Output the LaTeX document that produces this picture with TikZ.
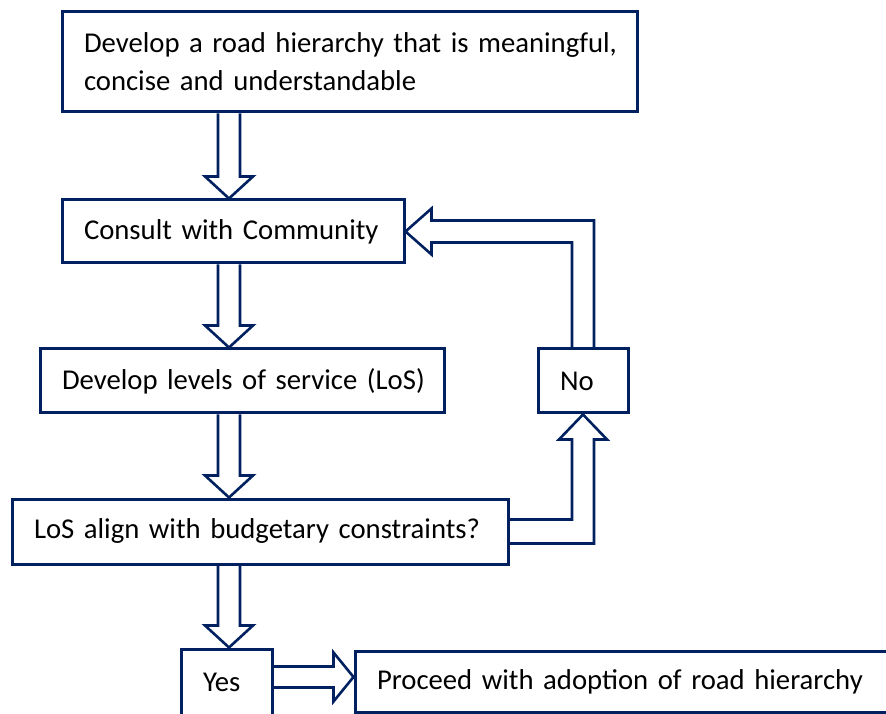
\documentclass[tikz,border=0pt]{standalone}
\usepackage{fontspec}
\setmainfont{Carlito}
\usetikzlibrary{positioning,calc}
\definecolor{navy}{HTML}{002060}

\begin{document}
\begin{tikzpicture}[x=1pt, y=1pt,
  box/.style={draw=navy, line width=3pt, inner xsep=22pt, inner ysep=0pt, align=left,
    font=\fontsize{28.7}{38}\selectfont},
  blockarrow/.style={draw=navy, line width=2.6pt, line join=miter}]
\useasboundingbox (0,0) rectangle (886,713);

\node[box, text width=531pt, minimum height=100pt] (hier) at (349.5,651)
  {\mbox{Develop a road hierarchy that is meaningful,}\\\mbox{concise and understandable}};
\node[box, text width=298pt, minimum height=63pt] (consult) at (233,481.5) {\mbox{Consult with Community}};
\node[box, text width=360pt, minimum height=64pt] (levels) at (242,332) {\mbox{Develop levels of service (LoS)}};
\node[box, text width=452pt, minimum height=65pt] (budget) at (260,181.5) {\mbox{LoS align with budgetary constraints?}};
\node[box, text width=46pt, minimum height=64pt] (no) at (583,332) {No};
\node[box, text width=47pt, minimum height=66pt] (yes) at (226.5,31) {Yes};
\node[box, text width=501pt, minimum height=61pt] (proceed) at (627.5,31.5) {\mbox{Proceed with adoption of road hierarchy}};

\coordinate (axis) at (229,0);
\coordinate (yesrow) at (0,36);

% hollow arrows down the main column
\foreach \a/\b in {hier/consult, consult/levels, levels/budget, budget/yes}
  \draw[blockarrow] ($(\a.south -| axis)+(-11,0)$) -- ($(\b.north -| axis)+(-11,22)$)
    -- ($(\b.north -| axis)+(-24,22)$) -- (\b.north -| axis) -- ($(\b.north -| axis)+(24,22)$)
    -- ($(\b.north -| axis)+(11,22)$) -- ($(\a.south -| axis)+(11,0)$);

% yes -> proceed
\draw[blockarrow] ($(yes.east |- yesrow)+(0,10.5)$) -- ($(proceed.west |- yesrow)+(-20,10.5)$)
  -- ($(proceed.west |- yesrow)+(-20,24.5)$) -- (proceed.west |- yesrow)
  -- ($(proceed.west |- yesrow)+(-20,-24.5)$) -- ($(proceed.west |- yesrow)+(-20,-10.5)$)
  -- ($(yes.east |- yesrow)+(0,-10.5)$);

% budget -> no
\draw[blockarrow] ($(budget.east)+(0,12)$) -- ($(budget.east -| no.south)+(-11,12)$)
  -- ($(no.south)+(-11,-25)$) -- ($(no.south)+(-24,-25)$) -- (no.south)
  -- ($(no.south)+(24,-25)$) -- ($(no.south)+(11,-25)$)
  -- ($(budget.east -| no.south)+(11,-12)$) -- ($(budget.east)+(0,-12)$);

% no -> back to consult
\draw[blockarrow] ($(no.north)+(-11,0)$) -- ($(no.north |- consult.east)+(-11,-11)$)
  -- ($(consult.east)+(26,-11)$) -- ($(consult.east)+(26,-23)$) -- (consult.east)
  -- ($(consult.east)+(26,23)$) -- ($(consult.east)+(26,11)$)
  -- ($(no.north |- consult.east)+(11,11)$) -- ($(no.north)+(11,0)$);
\end{tikzpicture}
\end{document}
